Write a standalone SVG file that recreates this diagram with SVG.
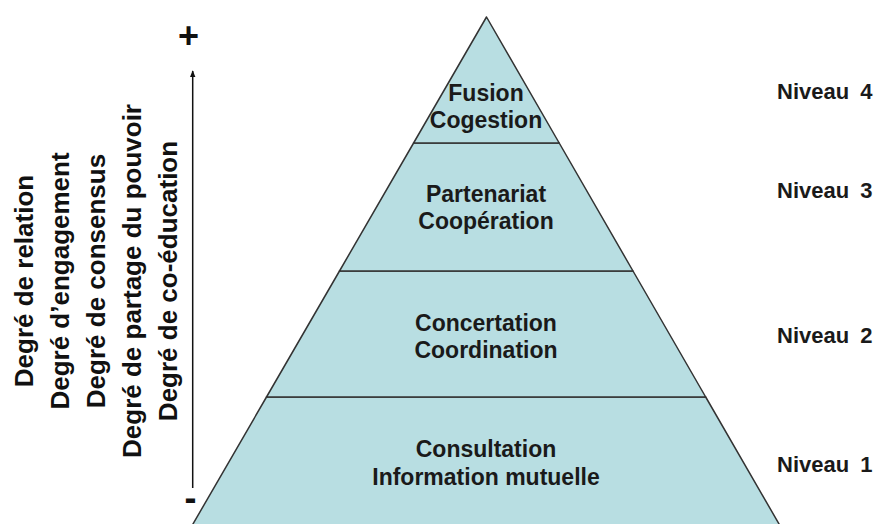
<svg xmlns="http://www.w3.org/2000/svg" width="879" height="524" viewBox="0 0 879 524">
<style>
.lvl{fill:#B8DEE2;stroke:#333333;stroke-width:1.5;stroke-linejoin:round}
.lbl{font-family:"Liberation Sans",Arial,sans-serif;font-weight:bold;font-size:23px;fill:#1a1a1a;text-anchor:middle}
.niv{font-family:"Liberation Sans",Arial,sans-serif;font-weight:bold;font-size:22px;fill:#1a1a1a;word-spacing:5px}
.deg{font-family:"Liberation Sans",Arial,sans-serif;font-weight:bold;font-size:26px;fill:#111111;text-anchor:middle}
.sign{font-family:"Liberation Sans",Arial,sans-serif;font-weight:bold;font-size:36px;fill:#111111;text-anchor:middle}
</style>
<defs>
<marker id="ah" viewBox="0 0 10 10" refX="9" refY="5" markerWidth="7" markerHeight="7" orient="auto" markerUnits="userSpaceOnUse">
<path d="M0,1 L10,5 L0,9 z" fill="#111111"/>
</marker>
</defs>
<rect width="879" height="524" fill="#ffffff"/>
<g id="niveau1">
<polygon class="lvl" points="266.5,397 705.7,397 782.5,530 189.5,530"/>
<text class="lbl" x="486" y="457">Consultation</text>
<text class="lbl" x="486" y="485">Information mutuelle</text>
</g>
<g id="niveau2">
<polygon class="lvl" points="339.5,271 633,271 705.7,397 266.5,397"/>
<text class="lbl" x="486" y="331">Concertation</text>
<text class="lbl" x="486" y="358">Coordination</text>
</g>
<g id="niveau3">
<polygon class="lvl" points="413.6,143 559.2,143 633,271 339.5,271"/>
<text class="lbl" x="486" y="202">Partenariat</text>
<text class="lbl" x="486" y="229">Coopération</text>
</g>
<g id="niveau4">
<polygon class="lvl" points="486.5,17 559.2,143 413.6,143"/>
<text class="lbl" x="486" y="101">Fusion</text>
<text class="lbl" x="486" y="128">Cogestion</text>
</g>
<g id="labels-niveau">
<text class="niv" x="777" y="98.5">Niveau 4</text>
<text class="niv" x="777" y="198">Niveau 3</text>
<text class="niv" x="777" y="343">Niveau 2</text>
<text class="niv" x="777" y="472">Niveau 1</text>
</g>
<g id="connectors">
<line x1="192.7" y1="488" x2="192.7" y2="71" stroke="#111111" stroke-width="1.5" marker-end="url(#ah)"/>
</g>
<g id="signes">
<text class="sign" x="188.5" y="47.5">+</text>
<text class="sign" x="190.5" y="510">-</text>
</g>
<g id="degres">
<text class="deg" transform="translate(33,281) rotate(-90)">Degré de relation</text>
<text class="deg" transform="translate(69,281) rotate(-90)">Degré d’engagement</text>
<text class="deg" transform="translate(105,281) rotate(-90)">Degré de consensus</text>
<text class="deg" transform="translate(141,281) rotate(-90)">Degré de partage du pouvoir</text>
<text class="deg" transform="translate(177,281) rotate(-90)">Degré de co-éducation</text>
</g>
</svg>
